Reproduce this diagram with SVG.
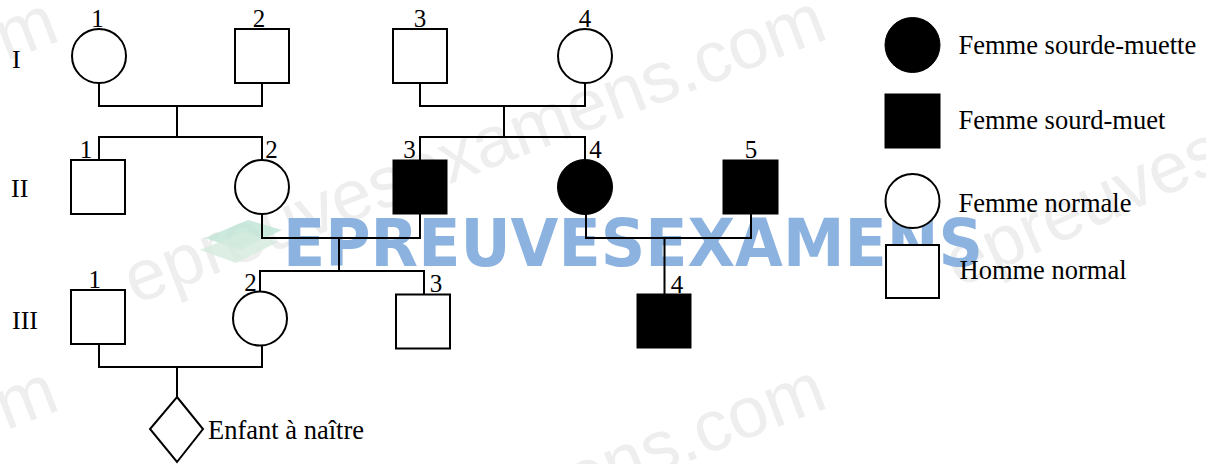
<svg xmlns="http://www.w3.org/2000/svg" width="1206" height="464" viewBox="0 0 1206 464">
  <style>
    .wm { font-family: "Liberation Sans", Arial, sans-serif; font-size: 72px; fill: #eeeeee; }
    .banner { font-family: "DejaVu Sans", sans-serif; font-weight: bold; font-size: 66px; fill: #8cb2e0; }
    .ln { fill: none; stroke: #000; stroke-width: 2; }
    .open { fill: #fff; stroke: #000; stroke-width: 2; }
    .aff { fill: #000; stroke: #000; stroke-width: 1; }
    .num { font-family: "Liberation Serif", "Times New Roman", serif; font-size: 25px; fill: #000; text-anchor: middle; }
    .gen { font-family: "Liberation Serif", "Times New Roman", serif; font-size: 26px; fill: #000; }
    .lbl { font-family: "Liberation Serif", "Times New Roman", serif; font-size: 26.5px; fill: #000; }
  </style>
  <rect width="1206" height="464" fill="#fff"/>

  <g id="watermark">
    <text class="wm" text-anchor="end" transform="translate(62,40) rotate(-21)">epreuvesexamens.com</text>
    <text class="wm" text-anchor="end" transform="translate(830,38) rotate(-21)">epreuvesexamens.com</text>
    <text class="wm" transform="translate(958,288) rotate(-24)">epreuvesexamens.com</text>
    <text class="wm" text-anchor="end" transform="translate(62,409) rotate(-21)">epreuvesexamens.com</text>
    <text class="wm" text-anchor="end" transform="translate(830,407) rotate(-21)">epreuvesexamens.com</text>
    <polygon points="205,238 248,220 282,230 240,250" fill="#bfe3d6" opacity="0.8"/>
    <polygon points="200,250 243,232 278,242 236,263" fill="#d5ebdf" opacity="0.8"/>
    <text class="banner" x="283" y="266" textLength="700" lengthAdjust="spacingAndGlyphs">EPREUVESEXAMENS</text>
  </g>

  <g id="generations">
    <text class="gen" x="12" y="68">I</text>
    <text class="gen" x="11" y="197">II</text>
    <text class="gen" x="12" y="329">III</text>
  </g>

  <g id="connectors">
    <path class="ln" d="M99,83 V106 H262 V83 M177,106 V137 M99,160 V137 H262 V160"/>
    <path class="ln" d="M420,83 V106 H585 V83 M504,106 V137 M420,160 V137 H585 V160"/>
    <path class="ln" d="M262,214 V238 H420 V214 M339,238 V271 M260,292 V271 H424 V295"/>
    <path class="ln" d="M586,214 V238 H751 V214 M664.5,238 V294"/>
    <path class="ln" d="M99,344 V367 H262 V345 M177,367 V397"/>
  </g>

  <g id="I-1"><circle class="open" cx="99" cy="56" r="27"/><text class="num" x="97.5" y="27">1</text></g>
  <g id="I-2"><rect class="open" x="235" y="29" width="54" height="54"/><text class="num" x="259" y="27">2</text></g>
  <g id="I-3"><rect class="open" x="393" y="29" width="54" height="54"/><text class="num" x="420" y="27">3</text></g>
  <g id="I-4"><circle class="open" cx="585" cy="56" r="27"/><text class="num" x="585" y="27">4</text></g>

  <g id="II-1"><rect class="open" x="71" y="160" width="54" height="54"/><text class="num" x="86" y="158">1</text></g>
  <g id="II-2"><circle class="open" cx="262" cy="187" r="27"/><text class="num" x="271.5" y="158">2</text></g>
  <g id="II-3"><rect class="aff" x="393" y="160" width="54" height="54"/><text class="num" x="409.5" y="157.5">3</text></g>
  <g id="II-4"><circle class="aff" cx="585" cy="187" r="27.5"/><text class="num" x="595.5" y="158">4</text></g>
  <g id="II-5"><rect class="aff" x="723" y="160" width="55" height="54"/><text class="num" x="751" y="157.5">5</text></g>

  <g id="III-1"><rect class="open" x="71" y="290" width="54" height="54"/><text class="num" x="94.7" y="287.5">1</text></g>
  <g id="III-2"><circle class="open" cx="260" cy="318.5" r="27"/><text class="num" x="250.5" y="290.5">2</text></g>
  <g id="III-3"><rect class="open" x="396" y="294.5" width="54" height="54"/><text class="num" x="436" y="291.5">3</text></g>
  <g id="III-4"><rect class="aff" x="637" y="294" width="54" height="54"/><text class="num" x="677" y="292.5">4</text></g>

  <g id="IV-child">
    <polygon class="open" points="177,397 203,429 177,462 150,429"/>
    <text class="lbl" x="208" y="439">Enfant à naître</text>
  </g>

  <g id="legend-affected-female">
    <circle class="aff" cx="912.5" cy="45" r="27.5"/>
    <text class="lbl" x="958.5" y="54">Femme sourde-muette</text>
  </g>
  <g id="legend-affected-male">
    <rect class="aff" x="885" y="94" width="55" height="54"/>
    <text class="lbl" x="958.5" y="129">Femme sourd-muet</text>
  </g>
  <g id="legend-normal-female">
    <circle class="open" cx="912.5" cy="201" r="27"/>
    <text class="lbl" x="958.5" y="212">Femme normale</text>
  </g>
  <g id="legend-normal-male">
    <rect class="open" x="886" y="245" width="53" height="53"/>
    <text class="lbl" x="959.5" y="279">Homme normal</text>
  </g>
</svg>
